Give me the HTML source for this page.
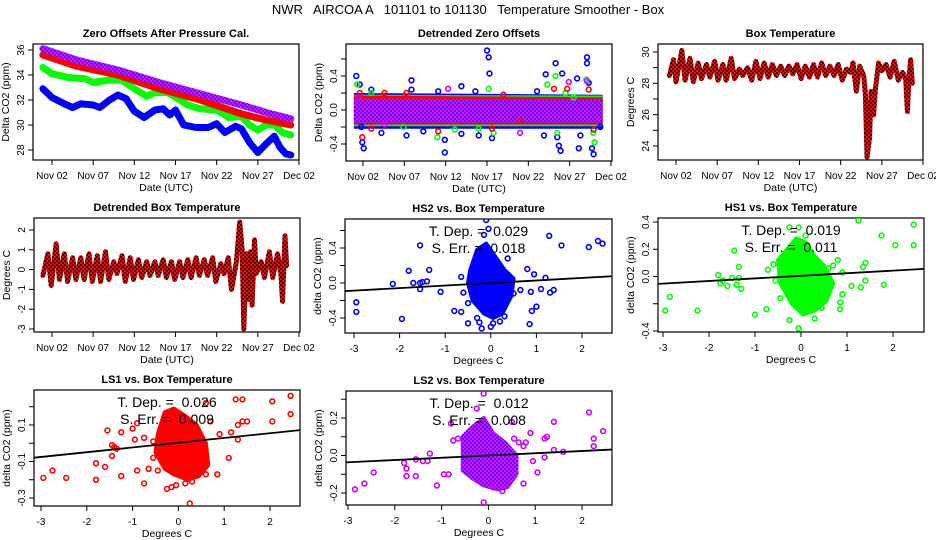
<!DOCTYPE html>
<html><head><meta charset="utf-8"><style>
html,body{margin:0;padding:0;background:#fff;}
svg{display:block;font-family:"Liberation Sans",sans-serif;}
</style></head><body>
<svg id="c" width="936" height="540" viewBox="0 0 936 540" xmlns="http://www.w3.org/2000/svg">
<defs>
<pattern id="pp" width="4" height="4" patternUnits="userSpaceOnUse"><rect width="4" height="4" fill="#ff00ff"/><rect width="2" height="2" fill="#4020ff"/><rect x="2" y="2" width="2" height="2" fill="#4020ff"/></pattern>
<pattern id="rb" width="4" height="4" patternUnits="userSpaceOnUse"><rect width="4" height="4" fill="#ff0000"/><rect width="2" height="2" fill="#400000"/><rect x="2" y="2" width="2" height="2" fill="#400000"/></pattern>
</defs>
<text x="468" y="14" text-anchor="middle" font-size="13" style="white-space:pre" xml:space="preserve">NWR   AIRCOA A   101101 to 101130   Temperature Smoother - Box</text>
</svg>
<script>
// ---------- data ----------
const dateTickDays=[2,7,12,17,22,27,32];
const dateTickLabels=["Nov 02","Nov 07","Nov 12","Nov 17","Nov 22","Nov 27","Dec 02"];
// Panel 1: zero offsets (day, ppm)
const zoBlue=[[0.9,32.9],[2,32.2],[3.5,31.7],[4.5,31.4],[5.5,31.7],[7,31.6],[7.8,31.4],[9,32.0],[10,32.4],[11,32.1],[12,31.1],[13.2,30.6],[14.5,31.2],[15.5,31.3],[16.3,30.8],[17,31.2],[18,30.0],[19.5,29.8],[21,29.8],[22,30.1],[23,29.4],[24.3,29.9],[25,29.7],[26,28.6],[27,27.8],[28,28.5],[29,29.1],[29.7,28.2],[30.4,27.7],[31,27.6]];
const zoGreen=[[0.9,34.6],[2,34.1],[4,33.8],[6,33.7],[7,33.4],[9,33.6],[10.5,33.6],[12,32.9],[13.5,32.3],[14.5,32.6],[16,32.6],[17.3,32.1],[18.5,31.6],[20,31.3],[22,31.2],[23.5,30.6],[25,30.7],[26,30.0],[27,29.6],[28,30.0],[29,30.0],[30,29.4],[31,29.2]];
const zoRed=[[0.9,35.6],[5,34.7],[10,34.0],[15,32.9],[20,32.0],[25,30.9],[28,30.4],[31,30.0]];
const zoPurple=[[0.9,36.1],[5,35.2],[10,34.4],[15,33.4],[20,32.5],[25,31.6],[28,31.0],[31,30.5]];
// Panel 2: detrended bands (day, lo, hi) and outliers (day, value)
const dzBlueBand=[[0.9,-0.22,0.2],[31,-0.22,0.18]];
const dzGreenBand=[[0.9,-0.19,0.18],[31,-0.19,0.17]];
const dzRedBand=[[0.9,-0.17,0.17],[31,-0.17,0.15]];
const dzPurpleBand=[[0.9,-0.15,0.13],[31,-0.15,0.12]];
const dzBlueOut=[[1.19,0.4],[1.6,0.3],[1.8,-0.2],[1.92,-0.38],[2.08,-0.45],[3.01,0.24],[4.23,-0.27],[7.26,-0.3],[7.87,0.35],[7.87,0.24],[9.29,-0.25],[11.1,0.22],[11.9,-0.35],[11.9,-0.5],[13.9,0.28],[13.9,-0.28],[15.6,0.22],[16,-0.3],[17,0.7],[17.2,0.62],[17.3,0.43],[17.6,-0.33],[23.05,0.22],[24.1,0.42],[23.9,-0.3],[25.3,0.55],[25.5,-0.32],[25.7,-0.42],[25.9,-0.48],[26.1,0.43],[27.9,0.37],[28.1,-0.45],[28.3,-0.3],[29.1,0.62],[29.1,0.55],[29.3,0.32],[29.7,-0.45],[29.9,-0.52],[30.7,-0.2]];
const dzGreenOut=[[1.3,0.3],[3.01,0.2],[6.9,-0.2],[11,-0.32],[13.1,-0.23],[16,-0.22],[17.2,0.25],[17.8,-0.27],[24.3,0.3],[25.3,0.4],[25.5,-0.27],[26.5,0.2],[27.5,0.15],[29,0.36],[29.85,-0.27],[30,-0.38]];
const dzRedOut=[[1.6,0.2],[1.92,-0.32],[3,-0.22],[4.6,0.2],[7.26,0.2],[11.1,-0.25],[17.6,-0.22],[19,0.18],[21,-0.13],[25.1,0.25],[26.7,0.25],[29.3,0.24],[29.9,-0.23]];
const dzPurpleOut=[[1.4,0.15],[4.6,-0.17],[12.3,0.25],[21,-0.27],[26.9,0.33],[29.1,0.34]];
// Panel 3: box temperature (day, degC)
const boxTemp=[[1.2,28.5],[1.7,29.5],[2.0,28.1],[2.7,30.1],[3.1,28.2],[3.7,29.6],[4.1,28.1],[4.7,29.3],[5.1,28.3],[5.7,29.2],[6.1,28.4],[6.7,29.4],[7.1,28.2],[7.7,29.2],[8.1,28.2],[8.7,29.6],[9.1,28.3],[9.7,28.9],[10.1,28.5],[10.7,29.0],[11.2,28.2],[11.7,29.4],[12.2,28.3],[12.7,29.3],[13.2,28.4],[13.7,29.2],[14.2,28.5],[14.7,29.1],[15.2,28.5],[15.7,29.1],[16.2,28.6],[16.7,29.2],[17.2,28.3],[17.7,29.1],[18.2,28.4],[18.7,29.2],[19.2,28.4],[19.7,29.3],[20.2,28.5],[20.7,29.1],[21.2,28.5],[21.7,29.2],[22.2,28.2],[22.7,28.9],[23.2,28.7],[23.5,29.3],[23.9,27.5],[24.3,29.1],[24.8,28.5],[25.0,27.3],[25.2,23.3],[25.5,24.5],[25.7,27.5],[26.0,26.0],[26.2,27.5],[26.6,29.3],[27.0,28.8],[27.5,29.2],[28.0,28.4],[28.5,29.4],[29.0,28.2],[29.5,28.7],[29.9,28.3],[30.1,26.2],[30.3,28.3],[30.5,29.5],[30.7,28.0]];
// Panel 4: detrended box temperature
const detTemp=[[0.9,-0.3],[1.5,0.8],[1.9,-0.8],[2.5,1.3],[2.9,-0.5],[3.5,0.8],[3.9,-0.6],[4.5,0.6],[4.9,-0.5],[5.5,0.6],[5.9,-0.5],[6.5,0.8],[6.9,-0.6],[7.5,0.7],[7.9,-0.6],[8.5,0.9],[8.9,-0.5],[9.5,0.4],[9.9,-0.2],[10.5,0.7],[10.9,-0.6],[11.5,0.6],[11.9,-0.5],[12.5,0.5],[12.9,-0.4],[13.5,0.4],[13.9,-0.3],[14.5,0.4],[14.9,-0.3],[15.5,0.5],[15.9,-0.4],[16.5,0.4],[16.9,-0.5],[17.5,0.4],[17.9,-0.4],[18.5,0.5],[18.9,-0.4],[19.5,0.6],[19.9,-0.3],[20.5,0.5],[20.9,-0.3],[21.5,0.6],[21.9,-0.6],[22.5,0.3],[22.9,-0.2],[23.4,0.6],[23.8,-1.0],[24.4,0.4],[24.8,2.4],[25.1,1.0],[25.3,-3.0],[25.6,0.8],[25.8,-1.5],[26.1,0.9],[26.3,-1.8],[26.6,1.5],[26.8,-0.2],[27.4,0.4],[27.8,-0.4],[28.4,0.9],[28.8,-0.4],[29.4,0.8],[29.8,-0.2],[30.0,-1.6],[30.3,1.7],[30.5,0.2]];
// Scatter panels: outliers (degC, ppm), core hull, fit
const hs2Pts=[[-2.95,-0.22],[-2.95,-0.33],[-2.15,-0.01],[-1.95,-0.41],[-1.8,0.14],[-1.7,0.0],[-1.55,-0.07],[-1.55,0.0],[-1.5,0.01],[-1.4,0.02],[-1.35,0.15],[-1.55,0.43],[-1.1,-0.1],[-0.8,-0.32],[-0.65,-0.33],[-0.65,0.07],[-0.6,-0.11],[-0.5,-0.46],[-0.5,-0.23],[0.37,0.28],[0.5,-0.12],[0.65,-0.08],[0.8,0.16],[0.88,-0.1],[0.85,-0.47],[0.9,-0.32],[0.95,0.1],[1.0,-0.27],[1.1,-0.07],[1.2,0.06],[1.28,0.54],[1.3,-0.11],[1.38,-0.08],[1.55,0.43],[2.15,0.41],[2.35,0.48],[2.45,0.45],[-0.1,0.72],[-0.05,0.62],[-0.15,0.55],[-0.1,0.42],[-0.2,-0.52],[0.0,-0.5],[0.05,-0.46],[0.2,-0.44],[0.3,-0.38],[-0.3,-0.4],[-0.25,-0.45]];
const hs2Core=[[-0.45,0.15],[-0.3,0.38],[-0.1,0.45],[0.1,0.3],[0.3,0.15],[0.5,0.05],[0.45,-0.15],[0.25,-0.35],[0.05,-0.4],[-0.15,-0.35],[-0.4,-0.2],[-0.5,0.0]];
const hs2Fit=[0.029,0.0,"0.029","0.018"];
const hs1Pts=[[-2.95,-0.25],[-2.85,-0.15],[-2.25,-0.25],[-1.8,0.01],[-1.75,-0.05],[-1.7,-0.03],[-1.6,-0.07],[-1.5,-0.01],[-1.45,0.19],[-1.4,-0.06],[-1.35,0.07],[-1.35,-0.01],[-1.3,-0.09],[-1.0,-0.28],[-0.75,-0.24],[-0.72,0.05],[-0.6,0.09],[-0.55,-0.03],[-0.45,-0.16],[-0.25,-0.32],[-0.25,0.36],[-0.05,0.36],[-0.05,-0.38],[0.1,0.3],[0.3,-0.31],[0.45,-0.23],[0.6,0.06],[0.7,0.08],[0.8,0.12],[0.85,-0.19],[0.85,-0.24],[0.9,0.03],[0.9,-0.13],[1.1,-0.07],[1.25,0.41],[1.3,-0.08],[1.35,0.07],[1.4,0.1],[1.4,-0.03],[1.75,0.3],[1.8,-0.06],[2.05,0.23],[2.45,0.38],[2.45,0.23]];
const hs1Core=[[-0.5,0.12],[-0.3,0.2],[-0.1,0.28],[0.1,0.25],[0.3,0.15],[0.5,0.08],[0.7,-0.05],[0.55,-0.18],[0.3,-0.25],[0.05,-0.28],[-0.2,-0.2],[-0.45,-0.05]];
const hs1Fit=[0.019,0.005,"0.019","0.011"];
const ls1Pts=[[-2.95,-0.19],[-2.75,-0.15],[-2.45,-0.19],[-1.8,-0.11],[-1.8,-0.2],[-1.6,-0.13],[-1.55,0.07],[-1.45,-0.01],[-1.4,-0.02],[-1.35,-0.03],[-1.45,-0.07],[-1.25,-0.18],[-1.25,0.06],[-1.0,0.08],[-0.95,0.02],[-0.9,-0.15],[-0.75,-0.22],[-0.75,0.03],[-0.65,-0.14],[-0.55,0.01],[-0.55,-0.08],[-0.45,-0.15],[-0.25,-0.25],[-0.15,-0.24],[-0.05,-0.23],[0.15,-0.22],[0.3,-0.21],[0.25,-0.33],[0.6,-0.17],[0.6,0.22],[0.7,0.12],[0.85,-0.17],[0.9,0.05],[1.1,-0.08],[1.15,0.06],[1.3,0.02],[1.3,0.1],[1.25,0.24],[1.4,0.24],[1.4,0.12],[1.5,0.12],[2.05,0.23],[2.05,0.12],[2.45,0.26],[2.45,0.16],[-0.9,0.11]];
const ls1Core=[[-0.45,0.05],[-0.3,0.17],[-0.1,0.19],[0.15,0.15],[0.4,0.1],[0.6,0.0],[0.65,-0.12],[0.45,-0.18],[0.2,-0.2],[-0.1,-0.17],[-0.3,-0.14],[-0.5,-0.05]];
const ls1Fit=[0.026,0.003,"0.026","0.009"];
const ls2Pts=[[-2.85,-0.18],[-2.65,-0.15],[-2.45,-0.09],[-1.8,-0.04],[-1.75,-0.07],[-1.75,-0.11],[-1.55,-0.11],[-1.55,-0.02],[-1.4,-0.03],[-1.3,-0.03],[-1.25,0.01],[-1.1,-0.16],[-0.95,-0.1],[-0.85,-0.1],[-0.8,0.17],[-0.75,0.08],[-0.65,0.09],[-0.1,0.33],[-0.25,0.25],[-0.1,-0.25],[0.5,0.18],[0.55,0.09],[0.65,0.07],[0.75,0.05],[0.8,0.07],[0.9,0.12],[0.75,-0.15],[0.95,-0.03],[1.05,-0.09],[1.2,-0.01],[1.2,0.09],[1.25,0.1],[1.4,0.18],[1.4,0.03],[1.6,0.02],[2.15,0.23],[2.25,0.09],[2.25,0.05],[2.45,0.13],[0.3,-0.19],[0.1,-0.17]];
const ls2Core=[[-0.55,0.1],[-0.35,0.15],[-0.1,0.2],[0.1,0.12],[0.35,0.07],[0.6,0.0],[0.6,-0.1],[0.4,-0.17],[0.2,-0.18],[-0.1,-0.16],[-0.35,-0.12],[-0.55,-0.08]];
const ls2Fit=[0.012,0.0,"0.012","0.008"];
const scatTicks=[-3,-2,-1,0,1,2];

// ---------- drawing ----------
const svg=document.getElementById('c');
const NS="http://www.w3.org/2000/svg";
function mk(tag,attrs,parent){const e=document.createElementNS(NS,tag);for(const k in attrs)e.setAttribute(k,attrs[k]);(parent||svg).appendChild(e);return e;}
function lin(v1,p1,v2,p2){return v=>p1+(v-v1)*(p2-p1)/(v2-v1);}

function panel(cfg){
  const g=mk('g',{});
  
  
  const sx=lin(cfg.xr[0],cfg.xr[1],cfg.xr[2],cfg.xr[3]);
  const sy=lin(cfg.yr[0],cfg.yr[1],cfg.yr[2],cfg.yr[3]);
  const t=mk('text',{x:(cfg.L+cfg.R)/2,y:cfg.T-7,'text-anchor':'middle','font-size':11,'font-weight':'bold'},g);
  t.textContent=cfg.title;
  
  
  const box=mk('rect',{x:cfg.L,y:cfg.T,width:cfg.R-cfg.L,height:cfg.B-cfg.T,fill:'none',stroke:'#000','stroke-width':1.2},g);
  
  
  const xa=mk('g',{},g);
  
  
  cfg.xt.forEach((v,i)=>{const x=sx(v);
    mk('line',{x1:x,x2:x,y1:cfg.B,y2:cfg.B+5,stroke:'#000'},xa);
    const tl=mk('text',{x:x,y:cfg.B+19,'text-anchor':'middle','font-size':10},xa);
    tl.textContent=cfg.xl[i];
    
    });
  const xt=mk('text',{x:(cfg.L+cfg.R)/2,y:cfg.B+31,'text-anchor':'middle','font-size':10.5},g);
  xt.textContent=cfg.xlab;
  
  
  const ya=mk('g',{},g);
  
  
  cfg.yt.forEach((v,i)=>{const y=sy(v);
    mk('line',{x1:cfg.L-5,x2:cfg.L,y1:y,y2:y,stroke:'#000'},ya);
    if(cfg.yl[i]!==''){const tl=mk('text',{x:cfg.L-9,y:y,'text-anchor':'middle','font-size':10,transform:`rotate(-90 ${cfg.L-9} ${y})`},ya);
      tl.textContent=cfg.yl[i];
      
      }});
  const yx=cfg.L-24, ym=(cfg.T+cfg.B)/2;
  const yt=mk('text',{x:yx,y:ym,'text-anchor':'middle','font-size':10.5,transform:`rotate(-90 ${yx} ${ym})`},g);
  yt.textContent=cfg.ylab;
  
  
  const clip='clip-'+cfg.name;
  const cp=mk('clipPath',{id:clip},g);
  mk('rect',{x:cfg.L,y:cfg.T,width:cfg.R-cfg.L,height:cfg.B-cfg.T},cp);
  const plot=mk('g',{'clip-path':`url(#${clip})`},g);
  
  
  return {sx,sy,g:plot,outer:g,cfg};
}
function poly(p,data,color,w,name){
  const d=data.map((q,i)=>(i?'L':'M')+p.sx(q[0]).toFixed(1)+','+p.sy(q[1]).toFixed(1)).join('');
  const e=mk('path',{d:d,fill:'none',stroke:color,'stroke-width':w,'stroke-linejoin':'round','stroke-linecap':'round'},p.g);
  
  
}
function band(p,data,color,name){
  const top=data.map(q=>p.sx(q[0]).toFixed(1)+','+p.sy(q[2]).toFixed(1));
  const bot=data.slice().reverse().map(q=>p.sx(q[0]).toFixed(1)+','+p.sy(q[1]).toFixed(1));
  const e=mk('polygon',{points:top.concat(bot).join(' '),fill:color},p.g);
  
  
}
function pts(p,data,color,name){
  data.forEach(q=>{const c=mk('circle',{cx:p.sx(q[0]).toFixed(1),cy:p.sy(q[1]).toFixed(1),r:2.4,fill:'none',stroke:color,'stroke-width':1.6},p.g);
    
    });
}
function core(p,data,fill,name){
  const e=mk('polygon',{points:data.map(q=>p.sx(q[0]).toFixed(1)+','+p.sy(q[1]).toFixed(1)).join(' '),fill:fill,stroke:fill,'stroke-width':4,'stroke-linejoin':'round'},p.g);
  
  
}
function fit(p,f){
  const x0=-3.3,x1=2.8;
  const l=mk('line',{x1:p.sx(x0),y1:p.sy(f[0]*x0+f[1]),x2:p.sx(x1),y2:p.sy(f[0]*x1+f[1]),stroke:'#000','stroke-width':1.8},p.g);
  
  
  const cx=(p.cfg.L+p.cfg.R)/2;
  const a=mk('text',{x:cx,y:p.cfg.T+17,'text-anchor':'middle','font-size':14,'xml:space':'preserve',style:'white-space:pre'},p.outer);
  a.textContent='T. Dep. =  '+f[2];
  
  
  const b=mk('text',{x:cx,y:p.cfg.T+34,'text-anchor':'middle','font-size':14,style:'white-space:pre'},p.outer);
  b.textContent='S. Err. =  '+f[3];
  
  
}

// Panel 1
const p1=panel({name:'zero-offsets-panel',title:'Zero Offsets After Pressure Cal.',L:33,R:299,T:44,B:160,xr:[2,52,32,299],yr:[28,150,36,50],xt:dateTickDays,xl:dateTickLabels,yt:[28,30,32,34,36],yl:['28','30','32','34','36'],xlab:'Date (UTC)',ylab:'Delta CO2 (ppm)'});
poly(p1,zoBlue,'#0000ff',7,'series-hs2');
poly(p1,zoGreen,'#00ff00',7,'series-hs1');
poly(p1,zoRed,'#ff0000',7,'series-ls1');
poly(p1,zoPurple,'url(#pp)',7,'series-ls2');

// Panel 2
const p2=panel({name:'detrended-zero-offsets-panel',title:'Detrended Zero Offsets',L:346,R:612,T:44,B:161,xr:[2,363,32,611],yr:[0,110,0.4,76],xt:dateTickDays,xl:dateTickLabels,yt:[-0.4,-0.2,0,0.2,0.4,0.6],yl:['-0.4','','0.0','','0.4',''],xlab:'Date (UTC)',ylab:'Delta CO2 (ppm)'});
band(p2,dzBlueBand,'#0000ff','band-hs2');
band(p2,dzGreenBand,'#00ff00','band-hs1');
band(p2,dzRedBand,'#ff0000','band-ls1');
band(p2,dzPurpleBand,'url(#pp)','band-ls2');
pts(p2,dzBlueOut,'#0000ff','point-hs2');
pts(p2,dzGreenOut,'#00ff00','point-hs1');
pts(p2,dzRedOut,'#ff0000','point-ls1');
pts(p2,dzPurpleOut,'#cc00ff','point-ls2');

// Panel 3
const p3=panel({name:'box-temperature-panel',title:'Box Temperature',L:658,R:923,T:44,B:160,xr:[2,676,32,923],yr:[24,146,30,52],xt:dateTickDays,xl:dateTickLabels,yt:[24,25,26,27,28,29,30],yl:['24','','26','','28','','30'],xlab:'Date (UTC)',ylab:'Degrees C'});
poly(p3,boxTemp,'url(#rb)',5,'series-box-temperature');

// Panel 4
const p4=panel({name:'detrended-box-temperature-panel',title:'Detrended Box Temperature',L:34,R:300,T:218,B:332,xr:[2,52,32,299],yr:[2,230,-3,329],xt:dateTickDays,xl:dateTickLabels,yt:[-3,-2,-1,0,1,2],yl:['-3','-2','-1','0','1','2'],xlab:'Date (UTC)',ylab:'Degrees C'});
poly(p4,detTemp,'url(#rb)',5,'series-detrended-temperature');

// Panel 5
const p5=panel({name:'hs2-scatter-panel',title:'HS2 vs. Box Temperature',L:345,R:612,T:219,B:333,xr:[-3,354,2,582],yr:[0,283,0.4,248],xt:scatTicks,xl:scatTicks.map(String),yt:[-0.4,-0.2,0,0.2,0.4,0.6],yl:['-0.4','','0.0','','0.4',''],xlab:'Degrees C',ylab:'delta CO2 (ppm)'});
core(p5,hs2Core,'#0000ff','core-cluster-hs2');
pts(p5,hs2Pts,'#0000ff','point-hs2');
fit(p5,hs2Fit);

// Panel 6
const p6=panel({name:'hs1-scatter-panel',title:'HS1 vs. Box Temperature',L:658,R:924,T:218,B:332,xr:[-3,663,2,893],yr:[0.4,222,-0.4,331],xt:scatTicks,xl:scatTicks.map(String),yt:[-0.4,-0.2,0,0.2,0.4],yl:['-0.4','','0.0','0.2','0.4'],xlab:'Degrees C',ylab:'delta CO2 (ppm)'});
core(p6,hs1Core,'#00ff00','core-cluster-hs1');
pts(p6,hs1Pts,'#00ff00','point-hs1');
fit(p6,hs1Fit);

// Panel 7
const p7=panel({name:'ls1-scatter-panel',title:'LS1 vs. Box Temperature',L:34,R:300,T:390,B:506,xr:[-3,41,2,270],yr:[0.1,425,-0.3,498],xt:scatTicks,xl:scatTicks.map(String),yt:[-0.3,-0.2,-0.1,0,0.1,0.2],yl:['-0.3','','-0.1','','0.1',''],xlab:'Degrees C',ylab:'delta CO2 (ppm)'});
core(p7,ls1Core,'#ff0000','core-cluster-ls1');
pts(p7,ls1Pts,'#ff0000','point-ls1');
fit(p7,ls1Fit);

// Panel 8
const p8=panel({name:'ls2-scatter-panel',title:'LS2 vs. Box Temperature',L:346,R:612,T:391,B:505,xr:[-3,348,2,582],yr:[0.2,418,-0.2,493],xt:scatTicks,xl:scatTicks.map(String),yt:[-0.2,-0.1,0,0.1,0.2,0.3],yl:['-0.2','','0.0','','0.2',''],xlab:'Degrees C',ylab:'delta CO2 (ppm)'});
core(p8,ls2Core,'url(#pp)','core-cluster-ls2');
pts(p8,ls2Pts,'#cc00ff','point-ls2');
fit(p8,ls2Fit);
</script>
</body></html>
